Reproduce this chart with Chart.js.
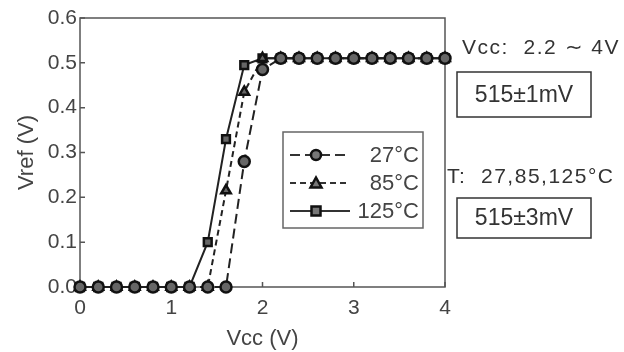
<!DOCTYPE html>
<html>
<head>
<meta charset="utf-8">
<script src="https://cdn.jsdelivr.net/npm/chart.js@4"></script>
<style>
  body { margin: 0; background: #fff; }
  canvas { display: block; }
</style>
</head>
<body>
<canvas id="grafico" width="624" height="352"></canvas>
<script>
// dados
const vcc = [0, 0.2, 0.4, 0.6, 0.8, 1.0, 1.2, 1.4, 1.6, 1.8, 2.0, 2.2, 2.4, 2.6, 2.8, 3.0, 3.2, 3.4, 3.6, 3.8, 4.0];
const vref27 = [0, 0, 0, 0, 0, 0, 0, 0, 0, 0.28, 0.485, 0.51, 0.51, 0.51, 0.51, 0.51, 0.51, 0.51, 0.51, 0.51, 0.51];
const vref85 = [0, 0, 0, 0, 0, 0, 0, 0, 0.215, 0.435, 0.51, 0.51, 0.51, 0.51, 0.51, 0.51, 0.51, 0.51, 0.51, 0.51, 0.51];
const vref125 = [0, 0, 0, 0, 0, 0, 0, 0.10, 0.33, 0.495, 0.51, 0.51, 0.51, 0.51, 0.51, 0.51, 0.51, 0.51, 0.51, 0.51, 0.51];
const xTicks = [0, 1, 2, 3, 4];
const yTicks = [0, 0.1, 0.2, 0.3, 0.4, 0.5, 0.6];
const legendas = ["27°C", "85°C", "125°C"];

const fonte = "'Liberation Sans', Arial, sans-serif";
const corTexto = "#444";

function pontos(ys) {
    return vcc.map(function (x, i) {
        return { x: x, y: ys[i] };
    });
}

const estilos = [
    { marcador: "circle", tracejado: [10, 5] },
    { marcador: "triangle", tracejado: [6, 4] },
    { marcador: "rect", tracejado: [] }
];

function criarDataset(label, ys, estilo) {
    return {
        label: label,
        data: pontos(ys),
        borderColor: "#222",
        borderWidth: 2,
        borderDash: estilo.tracejado,
        pointStyle: estilo.marcador,
        pointRadius: 5.5,
        pointBorderWidth: 2.5,
        pointBorderColor: "#111",
        pointBackgroundColor: "#666",
        tension: 0,
        fill: false,
        clip: false
    };
}

function desenharMarcador(ctx, tipo, x, y) {
    ctx.save();
    ctx.setLineDash([]);
    ctx.lineWidth = 2.5;
    ctx.strokeStyle = "#111";
    ctx.fillStyle = "#777";
    ctx.beginPath();
    if (tipo === "circle") {
        ctx.arc(x, y, 5, 0, Math.PI * 2);
    } else if (tipo === "triangle") {
        ctx.moveTo(x, y - 5.5);
        ctx.lineTo(x + 5.5, y + 4.5);
        ctx.lineTo(x - 5.5, y + 4.5);
        ctx.closePath();
    } else {
        ctx.rect(x - 4.5, y - 4.5, 9, 9);
    }
    ctx.fill();
    ctx.stroke();
    ctx.restore();
}

// moldura e marcas internas dos eixos
const moldura = {
    id: "moldura",
    beforeDatasetsDraw(chart) {
        const ctx = chart.ctx;
        const area = chart.chartArea;
        const sx = chart.scales.x;
        const sy = chart.scales.y;
        ctx.save();
        ctx.strokeStyle = "#555";
        ctx.lineWidth = 1.5;
        ctx.strokeRect(area.left, area.top, area.right - area.left, area.bottom - area.top);
        ctx.beginPath();
        yTicks.forEach(function (v) {
            const py = sy.getPixelForValue(v);
            ctx.moveTo(area.left, py);
            ctx.lineTo(area.left + 5, py);
        });
        xTicks.forEach(function (v) {
            const px = sx.getPixelForValue(v);
            ctx.moveTo(px, area.bottom);
            ctx.lineTo(px, area.bottom - 5);
        });
        ctx.stroke();
        ctx.restore();
    }
};

// legenda dentro do grafico e anotacoes a direita
const anotacoes = {
    id: "anotacoes",
    afterDraw(chart) {
        const ctx = chart.ctx;
        ctx.save();

        // caixa da legenda
        ctx.strokeStyle = "#666";
        ctx.lineWidth = 1.5;
        ctx.fillStyle = "#fff";
        ctx.fillRect(283, 132, 140, 96);
        ctx.strokeRect(283, 132, 140, 96);

        const linhasY = [155, 183, 211];
        legendas.forEach(function (txt, i) {
            const y = linhasY[i];
            ctx.strokeStyle = "#333";
            ctx.lineWidth = 2;
            ctx.setLineDash(estilos[i].tracejado);
            ctx.beginPath();
            ctx.moveTo(290, y);
            ctx.lineTo(350, y);
            ctx.stroke();
            ctx.setLineDash([]);
            desenharMarcador(ctx, estilos[i].marcador, 316, y);
            ctx.fillStyle = corTexto;
            ctx.font = "22px " + fonte;
            ctx.textAlign = "right";
            ctx.textBaseline = "middle";
            ctx.fillText(txt, 419, y + 1);
        });

        // textos da direita
        ctx.fillStyle = "#333";
        ctx.textAlign = "left";
        ctx.textBaseline = "middle";
        ctx.font = "21px " + fonte;
        ctx.letterSpacing = "1.5px";
        ctx.fillText("Vcc:  2.2 ∼ 4V", 462, 48);
        ctx.fillText("T:  27,85,125°C", 447, 177);
        ctx.letterSpacing = "0px";

        ctx.strokeStyle = "#333";
        ctx.lineWidth = 1.5;
        ctx.strokeRect(457, 72, 134, 45);
        ctx.strokeRect(457, 198, 134, 40);

        ctx.font = "23px " + fonte;
        ctx.textAlign = "center";
        ctx.fillText("515±1mV", 524, 96);
        ctx.fillText("515±3mV", 524, 219);

        ctx.restore();
    }
};

new Chart(document.getElementById("grafico"), {
    type: "line",
    data: {
        datasets: [
            criarDataset(legendas[0], vref27, estilos[0]),
            criarDataset(legendas[1], vref85, estilos[1]),
            criarDataset(legendas[2], vref125, estilos[2])
        ]
    },
    options: {
        responsive: false,
        animation: false,
        devicePixelRatio: 1,
        layout: {
            padding: { left: 0, right: 179, top: 18, bottom: 0 }
        },
        plugins: {
            legend: { display: false },
            tooltip: { enabled: false }
        },
        scales: {
            x: {
                type: "linear",
                min: 0,
                max: 4,
                afterFit: function (s) { s.height = 65; },
                afterBuildTicks: function (s) {
                    s.ticks = xTicks.map(function (v) { return { value: v }; });
                },
                grid: { display: false, drawTicks: false },
                border: { display: false },
                ticks: {
                    color: corTexto,
                    padding: 9,
                    font: { family: fonte, size: 21 }
                },
                title: {
                    display: true,
                    text: "Vcc (V)",
                    color: corTexto,
                    padding: { top: 2, bottom: 0 },
                    font: { family: fonte, size: 22 }
                }
            },
            y: {
                min: 0,
                max: 0.6,
                afterFit: function (s) { s.width = 80; },
                afterBuildTicks: function (s) {
                    s.ticks = yTicks.map(function (v) { return { value: v }; });
                },
                grid: { display: false, drawTicks: false },
                border: { display: false },
                ticks: {
                    color: corTexto,
                    padding: 3,
                    font: { family: fonte, size: 21 },
                    callback: function (v) { return v.toFixed(1); }
                },
                title: {
                    display: true,
                    text: "Vref (V)",
                    color: corTexto,
                    padding: { top: 14, bottom: 0 },
                    font: { family: fonte, size: 22 }
                }
            }
        }
    },
    plugins: [moldura, anotacoes]
});
</script>
</body>
</html>
